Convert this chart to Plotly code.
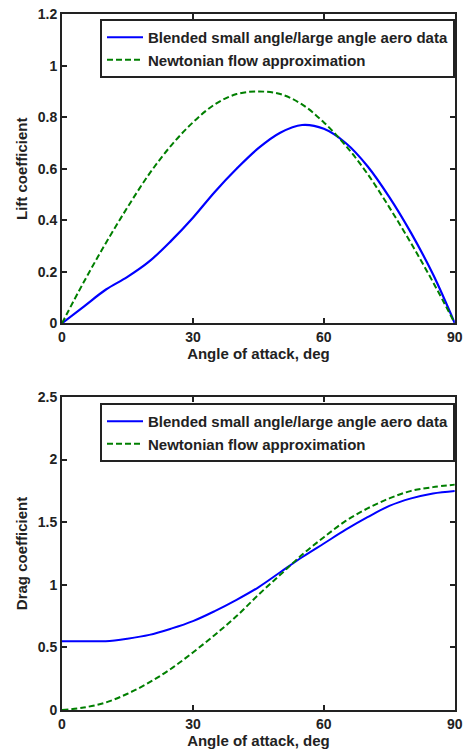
import plotly.graph_objects as go

alpha = [0, 5, 10, 15, 20, 25, 30, 35, 40, 45, 50, 55, 60, 65, 70, 75, 80, 85, 90]
cl_blended = [0, 0.065, 0.13, 0.18, 0.24, 0.32, 0.41, 0.51, 0.60, 0.68, 0.74, 0.77, 0.755, 0.70, 0.61, 0.49, 0.35, 0.19, 0]
cl_newton = [0, 0.16, 0.31, 0.45, 0.58, 0.69, 0.78, 0.85, 0.89, 0.90, 0.89, 0.85, 0.78, 0.69, 0.58, 0.45, 0.31, 0.16, 0]
cd_blended = [0.55, 0.55, 0.55, 0.57, 0.60, 0.65, 0.71, 0.79, 0.88, 0.98, 1.10, 1.22, 1.33, 1.44, 1.54, 1.63, 1.69, 1.73, 1.75]
cd_newton = [0, 0.02, 0.06, 0.13, 0.22, 0.33, 0.46, 0.60, 0.75, 0.92, 1.08, 1.24, 1.38, 1.51, 1.61, 1.69, 1.75, 1.78, 1.80]

name_blended = "Blended small angle/large angle aero data"
name_newton = "Newtonian flow approximation"
x_ticks = [0, 30, 60, 90]
x_ticklabels = ["0", "30", "60", "90"]
cl_ticks = [0, 0.2, 0.4, 0.6, 0.8, 1.0, 1.2]
cl_ticklabels = ["0", "0.2", "0.4", "0.6", "0.8", "1", "1.2"]
cd_ticks = [0, 0.5, 1.0, 1.5, 2.0, 2.5]
cd_ticklabels = ["0", "0.5", "1", "1.5", "2", "2.5"]

FONT = "Liberation Sans, Arial, sans-serif"
BLUE = "#0000ff"
GREEN = "#007f00"

fig = go.Figure()
fig.add_trace(go.Scatter(x=alpha, y=cl_blended, mode="lines", name=name_blended,
                         line=dict(color=BLUE, width=2.2, shape="spline"), xaxis="x", yaxis="y", legend="legend"))
fig.add_trace(go.Scatter(x=alpha, y=cl_newton, mode="lines", name=name_newton,
                         line=dict(color=GREEN, width=2, dash="6px,3px", shape="spline"), xaxis="x", yaxis="y", legend="legend"))
fig.add_trace(go.Scatter(x=alpha, y=cd_blended, mode="lines", name=name_blended,
                         line=dict(color=BLUE, width=2, shape="spline"), xaxis="x2", yaxis="y2", legend="legend2"))
fig.add_trace(go.Scatter(x=alpha, y=cd_newton, mode="lines", name=name_newton,
                         line=dict(color=GREEN, width=2, dash="6px,3px", shape="spline"), xaxis="x2", yaxis="y2", legend="legend2"))

tickfont = dict(family=FONT, size=14, color="#222", weight="bold")
titlefont = dict(family=FONT, size=15, color="#222", weight="bold")

def xax(domain, anchor):
    return dict(domain=domain, anchor=anchor, range=[0, 90], tickvals=x_ticks, ticktext=x_ticklabels,
                ticks="inside", ticklen=5, tickwidth=1.5, tickcolor="#222", showline=True, linecolor="#222",
                linewidth=2, mirror="ticks", showgrid=False, zeroline=False, tickfont=tickfont,
                automargin=False, title=dict(text="Angle of attack, deg", font=titlefont, standoff=0))

def yax(domain, anchor, rng, tv, tt, title):
    return dict(domain=domain, anchor=anchor, range=rng, tickvals=tv, ticktext=tt,
                ticks="inside", ticklen=5, tickwidth=1.5, tickcolor="#222", showline=True, linecolor="#222",
                linewidth=2, mirror="ticks", showgrid=False, zeroline=False, tickfont=tickfont,
                automargin=False, title=dict(text=title, font=titlefont, standoff=6))

legfont = dict(family=FONT, size=15, color="#222", weight="bold")
fig.update_layout(
    width=466, height=750,
    margin=dict(l=0, r=0, t=0, b=0, autoexpand=False),
    paper_bgcolor="white", plot_bgcolor="white",
    showlegend=True,
    xaxis=xax([0.133, 0.976], "y"),
    yaxis=yax([0.569, 0.981], "x", [0, 1.2], cl_ticks, cl_ticklabels, "Lift coefficient"),
    xaxis2=xax([0.133, 0.976], "y2"),
    yaxis2=yax([0.0533, 0.4707], "x2", [0, 2.5], cd_ticks, cd_ticklabels, "Drag coefficient"),
    legend=dict(x=0.2146, y=0.9747, xanchor="left", yanchor="top", bgcolor="white",
                bordercolor="#222", borderwidth=2, font=legfont, itemwidth=36,
                tracegroupgap=0, traceorder="normal"),
    legend2=dict(x=0.2146, y=0.4627, xanchor="left", yanchor="top", bgcolor="white",
                 bordercolor="#222", borderwidth=2, font=legfont, itemwidth=36,
                 tracegroupgap=0, traceorder="normal"),
)

fig.write_html("out.html")
